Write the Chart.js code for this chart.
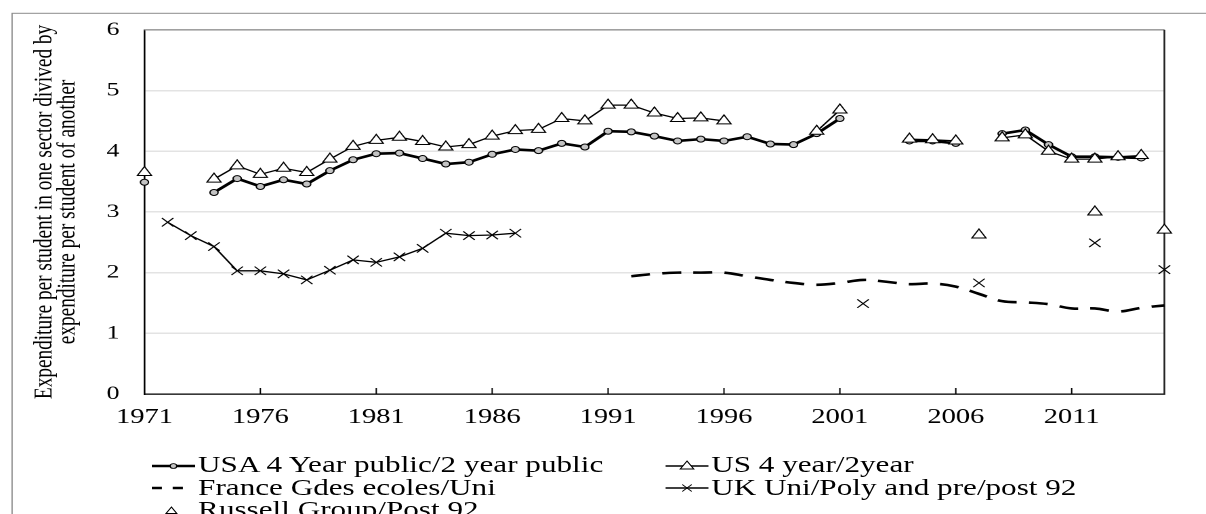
<!DOCTYPE html>
<html><head><meta charset="utf-8">
<script src="https://cdn.jsdelivr.net/npm/chart.js@4.4.1/dist/chart.umd.min.js"></script>
<style>
html,body{margin:0;padding:0;background:#fff;overflow:hidden;width:1206px;height:514px;}
#wrap{position:absolute;left:0;top:0;width:890px;height:514px;transform:scaleX(1.355056);transform-origin:0 0;}
#c{position:absolute;left:0;top:0;}
.lg{position:absolute;font-family:'Liberation Serif','Times New Roman',serif;font-size:23px;line-height:22.5px;height:22.5px;white-space:nowrap;color:#000;display:flex;align-items:center;}
.lg svg{display:block;margin-right:2px;flex:none;}
</style></head><body>
<div id="wrap"><canvas id="c" width="890" height="514"></canvas><div id="legend"></div></div>
<script>
const years = [1971,1972,1973,1974,1975,1976,1977,1978,1979,1980,1981,1982,1983,1984,1985,1986,1987,1988,1989,1990,1991,1992,1993,1994,1995,1996,1997,1998,1999,2000,2001,2002,2003,2004,2005,2006,2007,2008,2009,2010,2011,2012,2013,2014,2015];
const xTickLabels = ['1971','1976','1981','1986','1991','1996','2001','2006','2011'];

const usaPublic = [3.49,null,null,3.32,3.55,3.42,3.53,3.46,3.68,3.86,3.96,3.97,3.88,3.79,3.82,3.95,4.03,4.01,4.13,4.07,4.33,4.32,4.25,4.17,4.20,4.17,4.24,4.12,4.11,4.29,4.54,null,null,4.17,4.17,4.13,null,4.29,4.35,4.11,3.91,3.91,3.90,3.89,null];
const us4yr2yr = [3.65,null,null,3.54,3.76,3.62,3.72,3.65,3.87,4.08,4.18,4.23,4.16,4.07,4.11,4.25,4.34,4.36,4.54,4.50,4.76,4.76,4.63,4.54,4.55,4.50,null,null,null,4.33,4.68,null,null,4.20,4.19,4.17,null,4.22,4.27,4.00,3.87,3.87,3.91,3.93,null];
const france = [null,null,null,null,null,null,null,null,null,null,null,null,null,null,null,null,null,null,null,null,null,1.94,1.98,2.00,2.00,2.00,1.94,1.88,1.83,1.80,1.83,1.88,1.85,1.81,1.82,1.77,1.65,1.53,1.51,1.48,1.41,1.41,1.36,1.42,1.46];
const uk = [null,2.83,2.61,2.43,2.03,2.03,1.98,1.88,2.04,2.21,2.17,2.26,2.40,2.65,2.61,2.62,2.65,null,null,null,null,null,null,null,null,null,null,null,null,null,null,1.49,null,null,null,null,1.83,null,null,null,null,2.49,null,null,2.05];
const russell = [null,null,null,null,null,null,null,null,null,null,null,null,null,null,null,null,null,null,null,null,null,null,null,null,null,null,null,null,null,null,null,null,null,null,null,null,2.62,null,null,null,null,3.00,null,null,2.70];

const seriesLabels = ['USA 4 Year public/2 year public','US 4 year/2year','France Gdes ecoles/Uni','UK Uni/Poly and pre/post 92','Russell Group/Post 92'];
const yTitle = ['Expenditure per student in one sector divived by','expenditure per student of another'];

const SERIF = "'Liberation Serif','Times New Roman',serif";
Chart.defaults.font.family = SERIF;
Chart.defaults.color = '#000';

const framePlugin = {
  id: 'frame',
  beforeDraw(chart) {
    const ctx = chart.ctx;
    ctx.save();
    ctx.fillStyle = '#fff';
    ctx.fillRect(0, 0, chart.width, chart.height);
    ctx.strokeStyle = '#8c8c8c';
    ctx.lineWidth = 1;
    ctx.strokeRect(8.9, 13.3, chart.width + 50, chart.height + 50);
    ctx.restore();
  },
  beforeDatasetsDraw(chart) {
    const {ctx, chartArea: a, scales: {x}} = chart;
    ctx.save();
    ctx.lineWidth = 1.3;
    ctx.strokeStyle = '#8a8a8a';
    ctx.beginPath(); ctx.moveTo(a.left, a.top); ctx.lineTo(a.right, a.top); ctx.stroke();
    ctx.strokeStyle = '#222';
    ctx.beginPath(); ctx.moveTo(a.right, a.top); ctx.lineTo(a.right, a.bottom); ctx.stroke();
    ctx.strokeStyle = '#000';
    ctx.lineWidth = 1;
    years.forEach((yr, i) => {
      if (i > 0 && xTickLabels.includes(String(yr))) {
        const px = x.getPixelForValue(i);
        ctx.beginPath(); ctx.moveTo(px, a.bottom); ctx.lineTo(px, a.bottom - 6); ctx.stroke();
      }
    });
    ctx.restore();
  }
};

const chart = new Chart(document.getElementById('c'), {
  type: 'line',
  data: {
    labels: years.map(String),
    datasets: [
      {label: seriesLabels[0], data: usaPublic, borderColor: '#000', borderWidth: 2.6, pointStyle: 'circle', pointRadius: 3, pointBackgroundColor: '#c4c4c4', pointBorderColor: '#000', pointBorderWidth: 1, tension: 0, order: 2},
      {label: seriesLabels[1], data: us4yr2yr, borderColor: '#000', borderWidth: 1.3, pointStyle: 'triangle', pointRadius: 6, pointBackgroundColor: '#fff', pointBorderColor: '#000', pointBorderWidth: 1, tension: 0, order: 1},
      {label: seriesLabels[2], data: france, borderColor: '#000', borderWidth: 2.6, borderDash: [14, 9], pointRadius: 0, tension: 0.4, order: 3},
      {label: seriesLabels[3], data: uk, borderColor: '#000', borderWidth: 1.3, pointStyle: 'crossRot', pointRadius: 6, pointBorderColor: '#000', pointBorderWidth: 1, tension: 0, order: 4},
      {label: seriesLabels[4], data: russell, showLine: false, pointStyle: 'triangle', pointRadius: 6, pointBackgroundColor: '#fff', pointBorderColor: '#000', pointBorderWidth: 1, order: 0}
    ]
  },
  options: {
    responsive: false,
    devicePixelRatio: 2,
    animation: false,
    spanGaps: false,
    layout: {padding: {left: 0, right: 30.7, top: 28.7, bottom: 0}},
    plugins: {legend: {display: false}, tooltip: {enabled: false}},
    scales: {
      x: {
        type: 'category', offset: false,
        grid: {display: false, drawTicks: false},
        border: {display: true, color: '#000', width: 1.3},
        ticks: {autoSkip: false, maxRotation: 0, minRotation: 0, padding: 11, color: '#000', font: {size: 21},
          callback: (v, i) => xTickLabels.includes(String(years[i])) ? String(years[i]) : ''},
        afterFit: s => { s.height = 120; }
      },
      y: {
        min: 0, max: 6,
        ticks: {stepSize: 1, padding: 18.5, color: '#000', font: {size: 19}},
        grid: {color: '#e3e3e3', lineWidth: 1.5, drawTicks: false},
        border: {display: true, color: '#000', width: 1.3},
        title: {display: true, text: yTitle, color: '#000', font: {size: 19.3, lineHeight: 0.9}, padding: {top: 24, bottom: 0}},
        afterFit: s => { s.width = 106.6; }
      }
    }
  },
  plugins: [framePlugin]
});

// Legend (HTML, inside the same stretched wrapper)
const legendItems = [
  {i: 0, left: 112.2, top: 454.4, svg: '<line x1="0" y1="11" x2="32" y2="11" stroke="#000" stroke-width="2.6"/><circle cx="16" cy="11" r="2.4" fill="#c4c4c4" stroke="#000" stroke-width="0.9"/>'},
  {i: 1, left: 490.8, top: 454.4, svg: '<line x1="0" y1="11" x2="32" y2="11" stroke="#000" stroke-width="1.3"/><polygon points="16,6 21,14 11,14" fill="#fff" stroke="#000" stroke-width="0.9"/>'},
  {i: 2, left: 112.2, top: 477.0, svg: '<line x1="0" y1="11" x2="7.5" y2="11" stroke="#000" stroke-width="2.6"/><line x1="15.5" y1="11" x2="23" y2="11" stroke="#000" stroke-width="2.6"/>'},
  {i: 3, left: 490.8, top: 477.0, svg: '<line x1="0" y1="11" x2="32" y2="11" stroke="#000" stroke-width="1.3"/><line x1="12.5" y1="7.5" x2="19.5" y2="14.5" stroke="#000" stroke-width="0.9"/><line x1="12.5" y1="14.5" x2="19.5" y2="7.5" stroke="#000" stroke-width="0.9"/>'},
  {i: 4, left: 112.2, top: 499.3, svg: '<polygon points="14.5,7 18.5,13.5 10.5,13.5" fill="#fff" stroke="#000" stroke-width="0.9"/>'}
];
const lg = document.getElementById('legend');
legendItems.forEach(it => {
  const d = document.createElement('div');
  d.className = 'lg';
  d.style.left = it.left + 'px';
  d.style.top = it.top + 'px';
  d.innerHTML = '<svg width="32" height="22" viewBox="0 0 32 22">' + it.svg + '</svg><span>' + chart.data.datasets[it.i].label + '</span>';
  lg.appendChild(d);
});
</script>
</body></html>
